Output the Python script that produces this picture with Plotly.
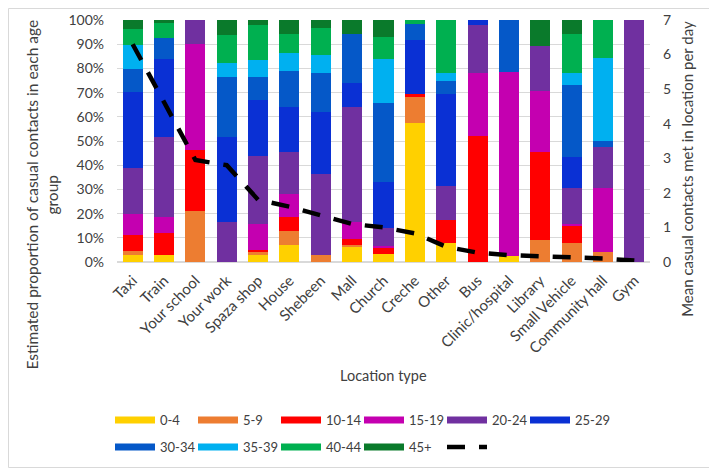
import plotly.graph_objects as go

locations = ["Taxi", "Train", "Your school", "Your work", "Spaza shop", "House", "Shebeen",
             "Mall", "Church", "Creche", "Other", "Bus", "Clinic/hospital", "Library",
             "Small Vehicle", "Community hall", "Gym"]

age_groups = ["0-4", "5-9", "10-14", "15-19", "20-24", "25-29", "30-34", "35-39", "40-44", "45+"]

# proportions (%) per age group, per location
p_0_4   = [2.9, 2.9, 0, 0, 2.9, 7.0, 0, 6.0, 3.3, 57.3, 7.7, 0, 2.5, 0, 0, 0, 0]
p_5_9   = [1.7, 0, 21.0, 0, 1.1, 5.9, 2.9, 1.0, 0, 10.7, 0, 0, 0, 9.0, 7.7, 4.2, 0]
p_10_14 = [6.4, 9.2, 25.4, 0, 0.9, 5.5, 0, 2.3, 2.7, 1.4, 9.6, 51.9, 0, 36.4, 7.1, 0, 0]
p_15_19 = [9.0, 6.7, 43.6, 0, 11.0, 9.9, 0, 7.3, 0.6, 0, 0, 26.4, 76.1, 25.4, 1.1, 26.4, 0]
p_20_24 = [18.8, 33.0, 10.0, 16.6, 27.7, 17.1, 33.6, 47.6, 7.3, 0, 14.0, 19.6, 0, 18.5, 14.8, 17.1, 100]
p_25_29 = [31.6, 32.2, 0, 35.0, 23.4, 18.5, 25.4, 9.6, 19.1, 22.2, 38.1, 2.1, 0, 0, 12.6, 0, 0]
p_30_34 = [9.3, 8.4, 0, 24.9, 9.5, 15.1, 16.4, 20.3, 32.6, 6.6, 5.5, 0, 21.4, 0, 30.0, 2.5, 0]
p_35_39 = [9.9, 0, 0, 5.9, 6.9, 7.5, 7.3, 0, 18.2, 0, 3.0, 0, 0, 0, 5.0, 34.3, 0]
p_40_44 = [6.6, 6.3, 0, 11.4, 14.4, 7.9, 11.2, 0, 9.2, 1.8, 22.1, 0, 0, 0, 16.1, 15.5, 0]
p_45    = [3.8, 1.3, 0, 6.2, 2.2, 5.6, 3.2, 5.9, 7.0, 0, 0, 0, 0, 10.7, 5.6, 0, 0]

mean_contacts = [6.3, 4.6, 2.95, 2.8, 1.8, 1.6, 1.35, 1.1, 1.0, 0.83, 0.44, 0.27, 0.2, 0.17, 0.15, 0.1, 0.04]

series = [p_0_4, p_5_9, p_10_14, p_15_19, p_20_24, p_25_29, p_30_34, p_35_39, p_40_44, p_45]
colors = ["#FFD000", "#ED7D31", "#FF0000", "#C400B0", "#7030A0", "#0A30D4",
          "#0558C8", "#00B0F0", "#00B050", "#0A7A2B"]

font_family = "Lato, 'Liberation Sans', sans-serif"
txt = "#404040"
fig = go.Figure()

# page body adds an 8px offset; figure sized so that the plot lands where the reference has it
W, H = 709, 461


def legend_id(k):
    return "legend" if k == 0 else f"legend{k + 1}"


for i, (name, vals, col) in enumerate(zip(age_groups, series, colors)):
    fig.add_trace(go.Bar(x=locations, y=[v / 100 for v in vals], name=name,
                         marker=dict(color=col, line=dict(width=0)), showlegend=False))
    fig.add_trace(go.Scatter(x=[None], y=[None], mode="lines", name=name,
                             line=dict(color=col, width=7), showlegend=True,
                             legend=legend_id(i)))

fig.add_trace(go.Scatter(x=locations, y=mean_contacts, mode="lines", name="",
                         line=dict(color="black", width=4.5, dash="18px,14px"),
                         yaxis="y2", showlegend=True, legend=legend_id(10)))

legends = {}
for k in range(11):
    row, col = divmod(k, 6)
    legends[legend_id(k)] = dict(
        orientation="h", xanchor="left", yanchor="middle", xref="container", yref="container",
        x=(102 + 83 * col) / W, y=1 - (412 + 27 * row) / H, itemwidth=40,
        font=dict(size=13, color=txt), bgcolor="rgba(0,0,0,0)")

fig.update_layout(
    barmode="stack",
    bargap=0.36,
    width=W, height=H,
    margin=dict(l=109, r=67, t=12, b=207),
    paper_bgcolor="white", plot_bgcolor="white",
    font=dict(family=font_family, size=13, color=txt),
    xaxis=dict(tickangle=-45, tickfont=dict(size=15, color=txt), showline=False,
               ticks="", automargin=False, ticklabelstandoff=6),
    yaxis=dict(range=[0, 1], dtick=0.1, tickformat=".0%", showgrid=True, gridcolor="#D9D9D9",
               gridwidth=1, zeroline=True, zerolinecolor="#D9D9D9", ticks="",
               tickfont=dict(size=14, color=txt), automargin=False, ticklabelstandoff=12),
    yaxis2=dict(range=[0, 7], dtick=1, overlaying="y", side="right", showgrid=False,
                zeroline=False, ticks="", tickfont=dict(size=14, color=txt),
                automargin=False, ticklabelstandoff=12),
    annotations=[
        dict(text="Estimated proportion of casual contacts in each age<br>group", xref="paper",
             yref="paper", x=-0.14, y=0.28, textangle=-90, showarrow=False,
             font=dict(size=15.5, color=txt), xanchor="center", yanchor="middle"),
        dict(text="Mean casual contacts met in location per day", xref="paper", yref="paper",
             x=1.069, y=0.384, textangle=-90, showarrow=False,
             font=dict(size=15, color=txt), xanchor="center", yanchor="middle"),
        dict(text="Location type", xref="paper", yref="paper", x=0.5, y=-0.47,
             showarrow=False, font=dict(size=14.5, color=txt),
             xanchor="center", yanchor="middle"),
    ],
    shapes=[dict(type="rect", xref="paper", yref="paper",
                 x0=-108.5 / 533, x1=1 + 65.5 / 533, y0=-205.5 / 242, y1=1 + 11.5 / 242,
                 line=dict(color="#D9D9D9", width=1), fillcolor="rgba(0,0,0,0)")],
    **legends,
)

fig.write_html("out.html")
